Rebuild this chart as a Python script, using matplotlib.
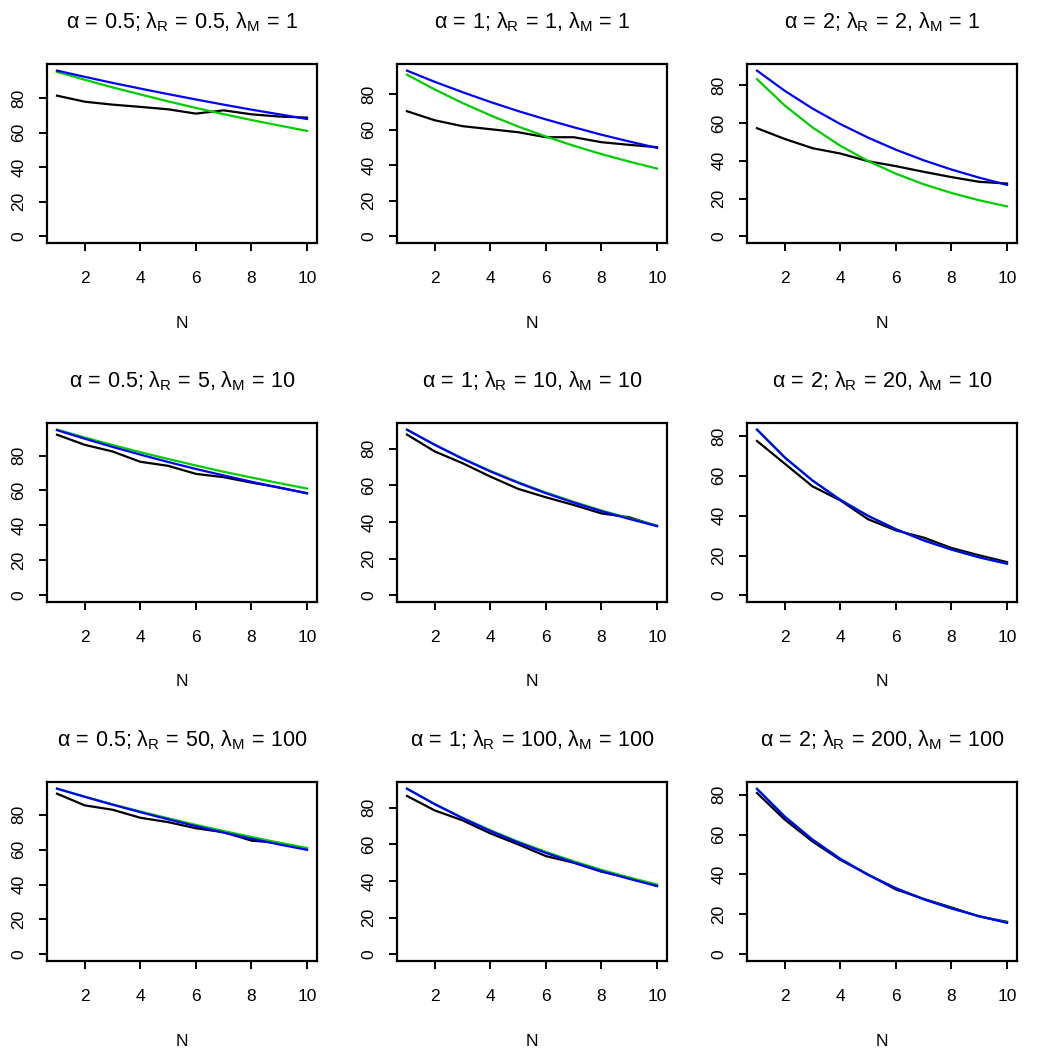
import matplotlib
matplotlib.use('Agg')
import matplotlib.pyplot as plt

plt.rcParams['font.family'] = 'Liberation Sans'
plt.rcParams['mathtext.fontset'] = 'custom'
plt.rcParams['mathtext.rm'] = 'Liberation Sans'
plt.rcParams['mathtext.it'] = 'Liberation Sans'
plt.rcParams['mathtext.default'] = 'regular'

# N values on the x axis
n_vals = [1, 2, 3, 4, 5, 6, 7, 8, 9, 10]

# panel parameters (rows: lambda_M = 1, 10, 100; cols: alpha = 0.5, 1, 2)
alphas = ['0.5', '1', '2', '0.5', '1', '2', '0.5', '1', '2']
lam_r = ['0.5', '1', '2', '5', '10', '20', '50', '100', '200']
lam_m = ['1', '1', '1', '10', '10', '10', '100', '100', '100']

# black: simulated
black = [
    [81.5, 78.0, 76.3, 75.0, 73.6, 71.1, 73.0, 70.7, 69.4, 68.8],
    [70.3, 65.2, 61.9, 60.2, 58.5, 55.7, 55.7, 52.9, 51.4, 50.1],
    [57.3, 51.6, 46.7, 43.9, 39.8, 37.2, 34.2, 31.4, 28.9, 28.0],
    [91.9, 86.1, 82.3, 76.4, 74.1, 69.5, 67.6, 64.5, 61.7, 58.4],
    [87.7, 78.5, 72.1, 64.8, 58.1, 53.5, 49.3, 44.7, 42.6, 37.8],
    [77.5, 66.1, 54.7, 47.7, 38.2, 32.6, 29.0, 23.8, 20.1, 16.7],
    [92.1, 85.4, 82.9, 78.3, 75.8, 72.3, 70.0, 65.2, 63.9, 60.4],
    [86.4, 78.5, 73.1, 66.0, 60.0, 53.6, 50.0, 45.1, 41.8, 37.3],
    [80.8, 67.5, 56.5, 47.3, 40.0, 32.5, 27.8, 23.5, 19.0, 16.3],
]

# green
green = [
    [95.3, 90.7, 86.3, 82.2, 78.2, 74.4, 70.8, 67.4, 64.2, 61.1],
    [90.8, 82.5, 74.9, 68.0, 61.7, 56.1, 50.9, 46.2, 42.0, 38.1],
    [83.3, 69.3, 57.7, 48.0, 39.9, 33.2, 27.6, 23.0, 19.1, 15.9],
    [94.8, 90.3, 86.0, 81.9, 78.0, 74.3, 70.7, 67.4, 64.2, 61.1],
    [90.3, 82.2, 74.7, 67.9, 61.7, 56.1, 51.0, 46.3, 42.0, 38.1],
    [83.2, 69.3, 57.7, 48.0, 39.9, 33.2, 27.6, 23.0, 19.1, 15.9],
    [95.0, 90.4, 86.0, 81.9, 78.0, 74.2, 70.7, 67.3, 64.0, 61.0],
    [90.3, 82.0, 74.5, 67.7, 61.5, 55.9, 50.8, 46.1, 41.9, 38.1],
    [83.0, 69.1, 57.5, 47.9, 39.9, 33.2, 27.6, 23.0, 19.1, 15.9],
]

# blue
blue = [
    [96.0, 92.4, 88.9, 85.6, 82.4, 79.3, 76.3, 73.4, 70.7, 68.0],
    [93.1, 86.8, 81.0, 75.5, 70.4, 65.7, 61.3, 57.1, 53.3, 49.7],
    [87.8, 77.1, 67.7, 59.5, 52.3, 45.9, 40.3, 35.4, 31.1, 27.3],
    [94.5, 89.6, 84.9, 80.5, 76.3, 72.3, 68.6, 65.0, 61.6, 58.4],
    [90.4, 82.1, 74.5, 67.6, 61.4, 55.7, 50.6, 45.9, 41.7, 37.8],
    [83.2, 69.2, 57.6, 47.9, 39.9, 33.2, 27.6, 23.0, 19.1, 15.9],
    [95.0, 90.3, 85.8, 81.5, 77.4, 73.5, 69.8, 66.3, 63.0, 59.9],
    [90.4, 81.9, 74.3, 67.3, 61.0, 55.3, 50.1, 45.4, 41.2, 37.3],
    [82.8, 68.9, 57.4, 47.8, 39.8, 33.1, 27.6, 23.0, 19.1, 15.8],
]

W = 1050.0
fig = plt.figure(figsize=(10.5, 10.5), dpi=100)

for i in range(9):
    r, c = divmod(i, 3)
    left = c * 350 + 47
    top = 64 + r * 359
    ax = fig.add_axes([left / W, 1 - (top + 179) / W, 270 / W, 179 / W])

    ax.plot(n_vals, black[i], color='black', lw=1.6)
    ax.plot(n_vals, green[i], color='#00CD00', lw=1.6)
    ax.plot(n_vals, blue[i], color='#0000FF', lw=1.6)

    m = max(max(black[i]), max(green[i]), max(blue[i]))
    ax.set_ylim(-0.04 * m, 1.04 * m)
    ax.set_xlim(1 - 0.36, 10 + 0.36)
    ax.set_xticks([2, 4, 6, 8, 10])
    ax.set_yticks([0, 20, 40, 60, 80])
    for s in ax.spines.values():
        s.set_linewidth(1.6)
    ax.tick_params(direction='out', length=6, width=1.4, labelsize=12.5)
    ax.tick_params(axis='x', pad=14)
    ax.tick_params(axis='y', pad=9)
    for lab in ax.get_yticklabels():
        lab.set_rotation(90)
        lab.set_va('center')

    ax.set_xlabel('N', fontsize=12.5)
    ax.xaxis.set_label_coords(0.5, -80 / 179)
    ax.xaxis.label.set_va('center')

    title = (r'$\alpha\,=\,' + alphas[i] + r'$; $\lambda_R\,=\,' + lam_r[i]
             + r'$, $\lambda_M\,=\,' + lam_m[i] + '$')
    ax.text(0.5, 1 + 36 / 179, title, transform=ax.transAxes,
            ha='center', va='baseline', fontsize=15.5)

fig.savefig('out.png', dpi=100)
